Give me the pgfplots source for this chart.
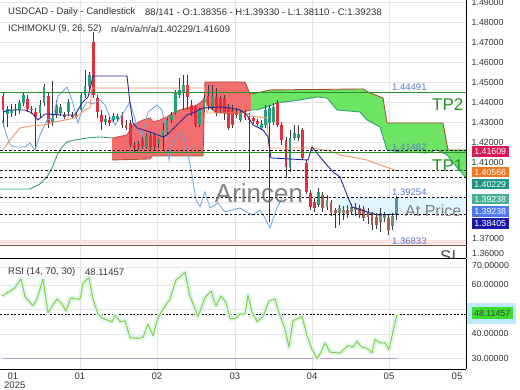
\documentclass[border=0pt]{standalone}
\usepackage{fontspec}
\setmainfont{Liberation Sans}
\usepackage{pgfplots}
\usepackage{pgfplotstable}
\pgfplotsset{compat=1.18}
\newcommand{\fs}{\fontsize{9.5}{11}\selectfont}
\newcommand{\ft}{\fontsize{8.8}{10}\selectfont}
\definecolor{upc}{RGB}{38,160,120}
\definecolor{dnc}{RGB}{232,45,62}
\definecolor{upl}{RGB}{120,140,120}
\definecolor{dnl}{RGB}{170,95,80}
\definecolor{lastc}{RGB}{100,140,165}
\definecolor{wick}{RGB}{60,60,60}
\definecolor{tenkan}{RGB}{40,40,150}
\definecolor{kijun}{RGB}{240,150,100}
\definecolor{chikou}{RGB}{110,165,220}
\definecolor{spana}{RGB}{50,160,120}
\definecolor{spanar}{RGB}{200,70,70}
\definecolor{spanb}{RGB}{160,85,50}
\definecolor{cloudred}{RGB}{242,110,110}
\definecolor{cloudgreen}{RGB}{110,228,100}
\definecolor{tpgreen}{RGB}{40,145,40}
\definecolor{lvlblue}{RGB}{90,120,200}
\definecolor{slbrown}{RGB}{125,75,45}
\definecolor{gridc}{RGB}{228,228,228}
\definecolor{rsic}{RGB}{150,200,70}
\definecolor{rsiglow}{RGB}{218,250,238}
\definecolor{rsi30}{RGB}{180,160,225}
\definecolor{tagB}{RGB}{215,25,85}
\definecolor{tagK}{RGB}{240,120,30}
\definecolor{tagA}{RGB}{30,150,130}
\definecolor{tagC}{RGB}{70,175,150}
\definecolor{tagBlue}{RGB}{80,120,240}
\definecolor{tagT}{RGB}{25,25,170}
\definecolor{tagRSI}{RGB}{60,220,50}
\definecolor{txt}{RGB}{50,50,50}

\pgfplotstableread{
x o h l c k
3 1.44315 1.44515 1.42765 1.43615 2
7.1 1.43415 1.43815 1.42765 1.43665 1
11.2 1.43465 1.43915 1.43265 1.43615 1
15.3 1.43615 1.43915 1.43315 1.43665 1
19.4 1.43615 1.44115 1.43415 1.43965 1
23.5 1.43965 1.44515 1.43815 1.44365 1
27.6 1.44165 1.44365 1.43515 1.43665 2
31.7 1.43665 1.43815 1.43415 1.43615 2
35.8 1.43515 1.43715 1.41615 1.43265 2
39.9 1.43465 1.44115 1.43215 1.43865 1
44 1.43965 1.44915 1.43815 1.44765 1
48.1 1.44315 1.44465 1.42715 1.42965 2
52.2 1.43015 1.45065 1.42815 1.43215 1
56.3 1.43365 1.44115 1.43215 1.43865 1
60.4 1.43465 1.43915 1.43315 1.43765 1
64.5 1.43365 1.43515 1.43165 1.43265 2
68.6 1.43515 1.44165 1.43315 1.44015 1
72.7 1.43365 1.43515 1.43165 1.43265 2
76.8 1.43315 1.43465 1.43165 1.43265 2
80.9 1.43615 1.44465 1.43565 1.44365 1
85 1.44365 1.45615 1.44215 1.44815 1
89.1 1.44815 1.45515 1.44615 1.45365 1
93.2 1.47015 1.47515 1.44215 1.44365 2
97.3 1.44215 1.44365 1.43215 1.43515 2
101.4 1.43365 1.43615 1.42615 1.43015 2
105.5 1.43015 1.43365 1.42865 1.43165 1
109.6 1.43115 1.43265 1.42815 1.42965 2
113.7 1.43115 1.43465 1.42965 1.43315 1
117.8 1.43165 1.43415 1.43015 1.43315 1
121.9 1.43315 1.43515 1.42715 1.42865 2
126 1.42865 1.43115 1.42615 1.42715 2
130.1 1.42965 1.43115 1.41765 1.41865 2
134.2 1.41865 1.42015 1.41515 1.41715 2
138.3 1.41915 1.42065 1.41615 1.41765 2
142.4 1.42115 1.42265 1.41665 1.41815 2
146.5 1.41765 1.42465 1.41665 1.42315 1
150.6 1.42365 1.42515 1.41615 1.41715 2
154.7 1.42315 1.42465 1.41615 1.41765 2
158.8 1.41915 1.42215 1.41715 1.42115 1
162.9 1.42265 1.42965 1.41615 1.42615 1
167 1.42515 1.43215 1.42365 1.43115 1
171.1 1.43115 1.43515 1.42965 1.43365 1
175.2 1.43465 1.44615 1.43365 1.44465 1
179.3 1.44365 1.45215 1.44215 1.44615 1
183.4 1.44465 1.45365 1.43615 1.44865 1
187.5 1.44865 1.45365 1.43615 1.44265 2
191.6 1.43865 1.44115 1.43315 1.43465 2
195.7 1.43765 1.43865 1.42765 1.42865 2
199.8 1.42865 1.43715 1.42765 1.43615 1
203.9 1.43615 1.44365 1.43515 1.44215 1
208 1.44315 1.44865 1.43615 1.43815 2
212.1 1.43765 1.44865 1.43615 1.44315 1
216.2 1.44265 1.44715 1.43315 1.43465 2
220.3 1.44215 1.44315 1.43465 1.43615 2
224.4 1.44215 1.44365 1.43115 1.43465 2
228.5 1.43765 1.43915 1.42615 1.42715 2
232.6 1.43615 1.43865 1.42715 1.42865 2
236.7 1.43515 1.43715 1.43215 1.43365 2
240.8 1.43115 1.43615 1.43015 1.43465 1
244.9 1.43465 1.43615 1.43115 1.43215 2
249 1.43265 1.43465 1.40515 1.43115 2
253.1 1.43215 1.43315 1.42915 1.43065 2
257.2 1.43065 1.43165 1.42815 1.42915 2
261.3 1.42715 1.43115 1.42615 1.42915 1
265.4 1.42865 1.43865 1.42715 1.43615 1
269.5 1.42965 1.43865 1.38015 1.43715 1
273.6 1.43015 1.43965 1.42865 1.43765 1
277.7 1.43965 1.44115 1.42765 1.42865 2
281.8 1.42865 1.43015 1.41865 1.42115 2
285.9 1.42115 1.42265 1.40215 1.40765 2
290 1.40765 1.42615 1.40515 1.42215 1
294.1 1.42215 1.42865 1.42115 1.42465 1
298.2 1.42215 1.42865 1.42065 1.42415 1
302.3 1.42615 1.42715 1.41115 1.41215 2
306.4 1.40965 1.41115 1.39415 1.39515 2
310.5 1.39465 1.39615 1.38615 1.38765 2
314.6 1.39015 1.39215 1.38515 1.38715 2
318.7 1.38865 1.39715 1.38765 1.39515 1
322.8 1.39365 1.39515 1.38515 1.38715 4
326.9 1.38765 1.39365 1.38615 1.39115 3
331 1.38965 1.39115 1.38315 1.38465 4
335.1 1.38615 1.38715 1.37715 1.38465 4
339.2 1.38465 1.38865 1.37865 1.38715 3
343.3 1.38465 1.38815 1.38115 1.38615 3
347.4 1.38615 1.38865 1.38215 1.38415 4
351.5 1.38515 1.38915 1.38365 1.38765 3
355.6 1.38615 1.38965 1.38315 1.38765 3
359.7 1.38715 1.38865 1.38215 1.38365 4
363.8 1.38665 1.38815 1.38065 1.38215 4
367.9 1.38515 1.38715 1.37915 1.38265 4
372 1.38365 1.38515 1.37615 1.37865 4
376.1 1.38265 1.38465 1.37665 1.37865 4
380.2 1.38015 1.38715 1.37515 1.38465 3
384.3 1.38215 1.38515 1.38015 1.38365 3
388.4 1.38215 1.38365 1.37365 1.37615 4
392.5 1.37815 1.38465 1.37615 1.38315 3
396.6 1.38356 1.39330 1.38110 1.39238 5
}\candles

\pgfplotstableread{
x y
3 1.43515
10 1.43615
25 1.43615
32 1.43465
38 1.43115
45 1.43415
60 1.43365
75 1.43365
78 1.43615
82 1.43965
88 1.44265
91 1.44865
93 1.45315
127 1.45315
130 1.43965
133 1.42965
137 1.42715
150 1.42515
163 1.42265
167 1.42365
177 1.42865
187 1.43365
193 1.43465
203 1.43715
220 1.43765
230 1.43715
240 1.43615
247 1.43365
253 1.42865
263 1.42615
268 1.42265
271 1.41215
308 1.41115
312 1.41765
320 1.41265
333 1.40515
340 1.40265
347 1.39365
352 1.38765
367 1.38515
377 1.38365
397 1.38405
}\tenkan

\pgfplotstableread{
x y
3 1.41615
10 1.42115
20 1.42715
30 1.42815
45 1.42865
55 1.43015
65 1.43115
75 1.43215
85 1.43615
90 1.43715
92 1.44715
205 1.44715
207 1.43465
247 1.43465
250 1.43315
267 1.43215
269 1.41715
312 1.41715
330 1.41565
340 1.41365
367 1.41115
383 1.40815
397 1.40566
}\kijun

\pgfplotstableread{
x y
2 1.43115
6 1.42465
10 1.41865
16 1.41765
25 1.41765
30 1.41965
35 1.41615
40 1.42365
47 1.43115
53 1.43215
58 1.44315
67 1.44765
72 1.44115
78 1.42965
82 1.43615
87 1.44015
93 1.43915
100 1.44115
105 1.43865
110 1.43265
115 1.42865
122 1.43365
130 1.44015
137 1.42815
142 1.42365
148 1.43515
157 1.43865
162 1.43615
166 1.42615
169 1.41115
172 1.41865
178 1.42365
183 1.42465
187 1.41615
192 1.40365
196 1.39115
200 1.38765
205 1.39515
210 1.38715
218 1.38965
225 1.38515
232 1.38615
240 1.38715
246 1.38515
253 1.38365
260 1.38615
265 1.38215
270 1.37715
277 1.38715
282 1.39215
}\chikou

\pgfplotstableread{
x y
0 1.39665
30 1.39665
40 1.39915
47 1.40265
52 1.40715
58 1.41465
63 1.41815
67 1.42015
75 1.42115
87 1.42215
100 1.42265
112 1.42215
127 1.42365
133 1.42865
143 1.43115
150 1.43215
153 1.43015
160 1.43115
167 1.43265
173 1.43465
180 1.43615
187 1.43715
193 1.43765
200 1.43965
204 1.44165
208 1.43815
215 1.43515
230 1.43415
240 1.43465
247 1.43565
251 1.43615
257 1.43615
267 1.43765
277 1.43965
300 1.44115
317 1.44265
327 1.44215
337 1.43615
360 1.43515
367 1.43115
380 1.42765
387 1.41615
400 1.41515
427 1.41465
437 1.41615
447 1.41365
455 1.40865
466 1.40229
}\spanA

\pgfplotstableread{
x y
112 1.41115
150 1.41165
152 1.41315
203 1.41315
205 1.45015
245 1.45015
250 1.44415
257 1.44465
270 1.44615
363 1.44665
370 1.44465
383 1.44215
387 1.42965
443 1.42965
448 1.41615
466 1.41609
}\spanB

% cloud outlines: span A forward, then span B backward
\pgfplotstableread{
x y
112 1.42215
127 1.42365
133 1.42865
143 1.43115
150 1.43215
153 1.43015
160 1.43115
167 1.43265
173 1.43465
180 1.43615
187 1.43715
193 1.43765
200 1.43965
204 1.44165
208 1.43815
215 1.43515
230 1.43415
240 1.43465
247 1.43565
251 1.43615
251 1.44422
250 1.44415
245 1.45015
205 1.45015
203 1.41315
152 1.41315
150 1.41165
112 1.41115
}\cloudR

\pgfplotstableread{
x y
251 1.43615
257 1.43615
267 1.43765
277 1.43965
300 1.44115
317 1.44265
327 1.44215
337 1.43615
360 1.43515
367 1.43115
380 1.42765
387 1.41615
400 1.41515
427 1.41465
437 1.41615
447 1.41365
455 1.40865
466 1.40229
466 1.41609
448 1.41615
443 1.42965
387 1.42965
383 1.44215
370 1.44465
363 1.44665
270 1.44615
257 1.44465
251 1.44422
}\cloudG

\pgfplotstableread{
x y
2 55.5
10 57.5
15 58.9
21 62.5
25 55.2
33 51.5
37 54.3
43 62.4
48 48.7
57 54.3
62 52.3
66 49.4
71 54.8
75 54.4
80 54.2
83 60.9
89 62.9
93 54.2
98 48.1
103 46.3
112 45.0
115 47.7
120 45.0
125 45.4
130 38.6
137 38.2
143 38.6
148 44.0
153 39.3
158 46.7
163 50.1
170 54.2
176 62.0
185 65.2
190 55.5
198 47.1
205 54.8
211 57.5
216 51.5
221 55.5
226 52.8
230 46.3
235 46.3
240 48.1
245 48.1
248 55.8
252 49.0
257 45.0
263 47.1
269 53.5
275 54.2
280 47.4
285 42.0
289 34.6
293 45.4
302 47.1
307 39.3
312 33.9
317 29.9
321 32.6
325 36.4
330 32.6
340 32.2
348 35.3
353 34.6
357 36.9
362 34.6
367 34.2
372 32.3
375 37.7
380 36.4
385 36.4
389 33.6
397 48.11457
}\rsi

\pgfplotsset{
  nomarks/.style={only marks, mark=*, mark size=0pt, mark options={draw=none, fill=none}},
  candlebody/.style 2 args={nomarks, forget plot,
    error bars/.cd, y dir=plus, y explicit, error mark=none,
    error bar style={#2, line width=2.8pt}},
}

\begin{document}
\begin{tikzpicture}
\useasboundingbox (0pt,0pt) rectangle (520pt,-390pt);
\fill[white] (0pt,0pt) rectangle (520pt,-390pt);

% ---------------- main pane ----------------
\begin{axis}[
  at={(0pt,0pt)}, anchor=north west,
  width=466pt, height=258pt, scale only axis,
  xmin=0, xmax=466, ymin=1.36215, ymax=1.49115,
  axis x line*=bottom, axis y line*=right,
  axis line style={black, line width=0.9pt},
  xtick={80,157,235,312,389}, xticklabels={},
  ytick={1.37,1.38,1.39,1.40,1.41,1.42,1.43,1.44,1.45,1.46,1.47,1.48,1.49},
  yticklabels={,,,,1.41000,1.42000,1.43000,1.44000,1.45000,1.46000,1.47000,1.48000,1.49000},
  yticklabel style={font=\ft, text=txt, anchor=west, inner sep=0pt, xshift=5.5pt},
  major tick length=0pt,
  grid=major, major grid style={gridc, line width=0.6pt},
]
% zones
\addplot[draw=none, fill=red!12, forget plot] coordinates {(0,1.37115) (466,1.37115) (466,1.36915) (0,1.36915)} -- cycle;
\addplot[draw=none, fill=cyan!12, forget plot] coordinates {(337,1.39254) (466,1.39254) (466,1.38405) (337,1.38405)} -- cycle;

% cloud
\addplot[draw=none, fill=cloudred, forget plot] table {\cloudR} -- cycle;
\addplot[draw=none, fill=cloudgreen, forget plot] table {\cloudG} -- cycle;
\addplot[spana, line width=0.9pt, restrict x to domain=0:112] table {\spanA};
\addplot[spanar, line width=0.8pt, restrict x to domain=112:251] table {\spanA};
\addplot[spana, line width=0.9pt, restrict x to domain=251:466] table {\spanA};
\addplot[spanb, line width=0.9pt] table {\spanB};

% candles: wicks
\addplot[nomarks, forget plot,
  error bars/.cd, y dir=plus, y explicit, error mark=none,
  error bar style={wick, line width=0.7pt}]
  table[x=x, y=l, y error plus expr=\thisrow{h}-\thisrow{l}] {\candles};
% candles: bodies (rows of another kind are sent far below the visible range)
\addplot[candlebody={1}{upc}] table[x=x, y expr={\thisrow{k}==1 ? min(\thisrow{o},\thisrow{c}) : 0},
        y error plus expr={max(abs(\thisrow{c}-\thisrow{o}),0.0004)}] {\candles};
\addplot[candlebody={2}{dnc}] table[x=x, y expr={\thisrow{k}==2 ? min(\thisrow{o},\thisrow{c}) : 0},
        y error plus expr={max(abs(\thisrow{c}-\thisrow{o}),0.0004)}] {\candles};
\addplot[candlebody={3}{upl}] table[x=x, y expr={\thisrow{k}==3 ? min(\thisrow{o},\thisrow{c}) : 0},
        y error plus expr={max(abs(\thisrow{c}-\thisrow{o}),0.0004)}] {\candles};
\addplot[candlebody={4}{dnl}] table[x=x, y expr={\thisrow{k}==4 ? min(\thisrow{o},\thisrow{c}) : 0},
        y error plus expr={max(abs(\thisrow{c}-\thisrow{o}),0.0004)}] {\candles};
\addplot[candlebody={5}{lastc}] table[x=x, y expr={\thisrow{k}==5 ? min(\thisrow{o},\thisrow{c}) : 0},
        y error plus expr={max(abs(\thisrow{c}-\thisrow{o}),0.0004)}] {\candles};

% ichimoku lines
\addplot[chikou, line width=0.8pt] table {\chikou};
\addplot[kijun, line width=0.9pt] table {\kijun};
\addplot[tenkan, line width=0.9pt] table {\tenkan};

% levels
\addplot[tpgreen, line width=1.1pt] coordinates {(0,1.44491) (466,1.44491)};
\addplot[tpgreen, line width=1.1pt] coordinates {(0,1.41482) (466,1.41482)};
\addplot[black, line width=0.9pt, dash pattern=on 2.5pt off 2pt] coordinates {(0,1.41609) (466,1.41609)};
\addplot[black, line width=0.9pt, dash pattern=on 2.5pt off 2pt] coordinates {(0,1.40566) (466,1.40566)};
\addplot[black, line width=0.9pt, dash pattern=on 2.5pt off 2pt] coordinates {(0,1.40229) (466,1.40229)};
\addplot[black, line width=0.9pt, dash pattern=on 2.5pt off 2pt] coordinates {(0,1.39254) (466,1.39254)};
\addplot[black, line width=0.9pt, dash pattern=on 2.5pt off 2pt] coordinates {(0,1.38405) (466,1.38405)};
\addplot[slbrown, line width=1.1pt] coordinates {(0,1.36833) (466,1.36833)};

\node[lvlblue, font=\fs, anchor=south west, inner sep=0pt] at (axis cs:392,1.44491) [yshift=1.5pt] {1.44491};
\node[lvlblue, font=\fs, anchor=south west, inner sep=0pt] at (axis cs:392,1.41482) [yshift=1.5pt] {1.41482};
\node[lvlblue, font=\fs, anchor=south west, inner sep=0pt] at (axis cs:392,1.39254) [yshift=1.5pt] {1.39254};
\node[lvlblue, font=\fs, anchor=south west, inner sep=0pt] at (axis cs:392,1.36833) [yshift=1pt] {1.36833};
\node[tpgreen, font=\fontsize{17}{18}\selectfont, anchor=west, inner sep=0pt] at (axis cs:432,1.43865) {TP2};
\node[tpgreen, font=\fontsize{17}{18}\selectfont, anchor=west, inner sep=0pt] at (axis cs:432,1.40815) {TP1};
\node[black!50, font=\fontsize{16}{18}\selectfont, anchor=west, inner sep=0pt] at (axis cs:405,1.38565) {At Price};
\node[black!58, opacity=0.85, font=\fontsize{26}{28}\selectfont, inner sep=0pt] at (axis cs:259,1.39465) {Arincen};
\end{axis}

\begin{scope}
\clip (400pt,-240pt) rectangle (466pt,-258pt);
\node[black!70, font=\fontsize{17}{18}\selectfont, anchor=base west, inner sep=0pt] at (440pt,-263pt) {SL};
\end{scope}

% ---------------- RSI pane ----------------
\begin{axis}[
  at={(0pt,-259pt)}, anchor=north west,
  width=466pt, height=110pt, scale only axis,
  xmin=0, xmax=466, ymin=25.7, ymax=70.6,
  axis x line*=bottom, axis y line*=right,
  axis line style={black, line width=0.9pt},
  xtick={80,157,235,312,389}, xticklabels={01,02,03,04,05},
  extra x ticks={13,457}, extra x tick labels={01,05},
  extra x tick style={grid=none},
  xticklabel style={font=\fs, text=txt},
  ytick={30,40,50,60},
  yticklabels={30.00000,40.00000,50.00000,60.00000},
  yticklabel style={font=\ft, text=txt, anchor=west, inner sep=0pt, xshift=5.5pt},
  major tick length=0pt,
  grid=major, major grid style={gridc, line width=0.6pt},
]
\addplot[gridc, line width=0.6pt, forget plot] coordinates {(0,67.4) (466,67.4)};
\addplot[rsi30, line width=1.3pt] coordinates {(3,30) (397,30)};
\addplot[black, line width=0.9pt, dash pattern=on 2pt off 1.6pt] coordinates {(0,48.11457) (466,48.11457)};
\addplot[rsiglow, line width=5pt, line join=round] table {\rsi};
\addplot[rsic, line width=1pt, line join=round] table {\rsi};
\end{axis}

% ---------------- header texts ----------------
\node[anchor=west, font=\fs, text=txt, inner sep=0pt] at (8pt,-12.5pt) {USDCAD - Daily - Candlestick};
\node[anchor=west, font=\fs, text=txt, inner sep=0pt] at (145pt,-12.5pt) {88/141 - O:1.38356 - H:1.39330 - L:1.38110 - C:1.39238};
\node[anchor=west, font=\fs, text=txt, inner sep=0pt] at (8pt,-29.5pt) {ICHIMOKU (9, 26, 52)};
\node[anchor=west, font=\fs, text=txt, inner sep=0pt] at (111pt,-29.5pt) {n/a/n/a/n/a/1.40229/1.41609};
\node[anchor=west, font=\fs, text=txt, inner sep=0pt] at (8pt,-272pt) {RSI (14, 70, 30)};
\node[anchor=west, font=\fs, text=txt, inner sep=0pt] at (85pt,-272pt) {48.11457};
\node[anchor=west, font=\fs, text=txt, inner sep=0pt] at (4pt,-385.5pt) {2025};

% ---------------- price axis extras and tags ----------------
\node[anchor=west, font=\ft, text=txt, inner sep=0pt] at (472pt,-238pt) {1.37000};
\node[anchor=west, font=\ft, text=txt, inner sep=0pt] at (472pt,-253pt) {1.36000};
\node[anchor=west, font=\ft, text=txt, inner sep=0pt] at (472pt,-265.5pt) {70.00000};
\tikzset{tag/.style={anchor=west, font=\ft, text=white, inner sep=0pt, minimum width=37pt, minimum height=10.5pt}}
\node[tag, fill=tagB] at (471.5pt,-151.7pt) {1.41609};
\node[tag, fill=tagK] at (471.5pt,-172pt) {1.40566};
\node[tag, fill=tagA] at (471.5pt,-184pt) {1.40229};
\node[tag, fill=tagC] at (471.5pt,-199pt) {1.39238};
\node[tag, fill=tagBlue] at (471.5pt,-211.3pt) {1.39238};
\node[tag, fill=tagT] at (471.5pt,-223.5pt) {1.38405};
\fill[cyan!25] (466.5pt,-303pt) rectangle (516pt,-324pt);
\node[anchor=west, font=\ft, text=black!75, fill=tagRSI, inner sep=0pt, minimum width=41pt, minimum height=12pt] at (471.5pt,-313.3pt) {48.11457};
\end{tikzpicture}
\end{document}
